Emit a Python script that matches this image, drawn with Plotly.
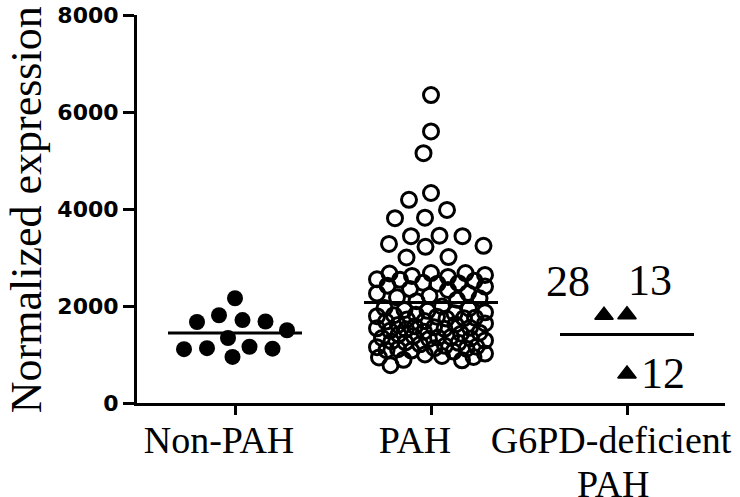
import numpy as np
import plotly.graph_objects as go

# ---------------- data ----------------
categories = ["Non-PAH", "PAH", "G6PD-deficient"]
category_second_line = ["", "", "PAH"]

non_pah_values = [2160, 1810, 1710, 1680, 1670, 1500, 1340, 1160, 1130, 1120, 1110, 950]

pah_values = [
    6350, 5600, 5150, 4330, 4190, 3980, 3820, 3810, 3450, 3440, 3440,
    3280, 3240, 3220, 3010, 3000, 2680, 2680, 2670, 2640, 2620, 2600, 2550,
    2540, 2520, 2480, 2470, 2460, 2420, 2400, 2350, 2330, 2270, 2260,
    2210, 2160, 2130, 2180, 2100,
    1990, 1950, 1920, 1900, 1870, 1960, 1850, 1820,
    1810, 1790, 1780, 1750, 1720, 1690, 1760, 1740, 1680, 1640, 1620,
    1610, 1580, 1550, 1530, 1520, 1490, 1560, 1540, 1470, 1450, 1430,
    1410, 1380, 1350, 1330, 1320, 1290, 1360, 1340, 1270, 1250, 1240,
    1210, 1180, 1150, 1120, 1090, 1160, 1130, 1110,
    1060, 1020, 1000, 970, 1080,
    950, 890, 780, 880, 940,
]

g6pd_values = [1810, 1820, 600]
g6pd_ids = ["28", "13", "12"]

y_tick_values = [0, 2000, 4000, 6000, 8000]
y_title = "Normalized expression"

# ---------------- layout constants ----------------
W, H = 740, 497
M = dict(l=137, r=15, t=15, b=94)
plot_w = W - M["l"] - M["r"]
plot_h = H - M["t"] - M["b"]
x_range = [-0.5, 2.5]
y_range = [0, 8000]
px_per_x = plot_w / (x_range[1] - x_range[0])
px_per_y = plot_h / (y_range[1] - y_range[0])


def swarm_offsets(values, diameter=23.0, max_half=54.0, step=0.5):
    """Beeswarm-style horizontal offsets (in x data units) for a column of points."""
    vals = np.asarray(values, dtype=float)
    ys = vals * px_per_y
    order = np.argsort(-vals, kind="stable")
    cand = np.arange(-max_half, max_half + step / 2, step)
    cand = np.array(sorted(cand, key=lambda c: (abs(c), c)))
    px_list, py_list = [], []
    xs = np.zeros(len(vals))
    for i in order:
        if px_list:
            pxa = np.array(px_list)
            pya = np.array(py_list)
            d = np.sqrt((cand[:, None] - pxa[None, :]) ** 2 + (ys[i] - pya[None, :]) ** 2).min(axis=1)
            ok = np.where(d >= diameter)[0]
            j = ok[0] if len(ok) else int(np.argmax(d))
        else:
            j = 0
        xs[i] = cand[j]
        px_list.append(cand[j])
        py_list.append(ys[i])
    return xs / px_per_x


groups = [non_pah_values, pah_values, g6pd_values]
styles = [
    dict(symbol="circle", size=16, color="black", line=dict(width=0)),
    dict(symbol="circle-open", size=15, color="black", line=dict(width=3, color="black")),
    dict(symbol="triangle-up", size=16, color="black", line=dict(width=1.5, color="black")),
]

fig = go.Figure()
offsets_all = []
for gi, (vals, st) in enumerate(zip(groups, styles)):
    off = swarm_offsets(vals)
    offsets_all.append(off)
    fig.add_trace(go.Scatter(
        x=gi + off, y=vals, mode="markers", marker=st,
        showlegend=False, hoverinfo="y", name=categories[gi]))

half_len = 67 / px_per_x
for gi, vals in enumerate(groups):
    m = float(np.mean(vals))
    fig.add_trace(go.Scatter(
        x=[gi - half_len, gi + half_len], y=[m, m], mode="lines",
        line=dict(color="black", width=3), showlegend=False, hoverinfo="skip"))

# sample-ID labels next to the G6PD-deficient points
id_place = [
    dict(xanchor="right", xshift=-12, yshift=34),
    dict(xanchor="left", xshift=-1, yshift=34),
    dict(xanchor="left", xshift=12, yshift=0),
]
serif = "Liberation Serif, Times New Roman, serif"
for k, (lab, v) in enumerate(zip(g6pd_ids, g6pd_values)):
    p = id_place[k]
    fig.add_annotation(
        x=2 + offsets_all[2][k], y=v, xref="x", yref="y", text=lab, showarrow=False,
        xanchor=p["xanchor"], yanchor="middle", xshift=p["xshift"], yshift=p["yshift"],
        font=dict(family=serif, size=44, color="black"))

# second line of the category labels
for gi, extra in enumerate(category_second_line):
    if extra:
        fig.add_annotation(
            x=gi, y=(403 - 461) / plot_h, xref="x", yref="paper",
            text=extra, showarrow=False, xanchor="center", yanchor="top", xshift=-14,
            font=dict(family=serif, size=38, color="black"))

# y-axis title
fig.add_annotation(
    x=(26 - M["l"]) / plot_w, y=0.497, xref="paper", yref="paper", text=y_title,
    textangle=-90, showarrow=False, xanchor="center", yanchor="middle",
    font=dict(family=serif, size=44, color="black"))

fig.update_layout(
    width=W, height=H, margin=M, paper_bgcolor="white", plot_bgcolor="white",
    showlegend=False,
    xaxis=dict(
        range=x_range, tickmode="array", tickvals=list(range(len(categories))),
        ticktext=categories, showline=True, linecolor="black", linewidth=3,
        ticks="outside", ticklen=9, tickwidth=3, tickcolor="black",
        showgrid=False, zeroline=False, ticklabelshift=-16, ticklabelstandoff=-8,
        automargin=False,
        tickfont=dict(family=serif, size=38, color="black")),
    yaxis=dict(
        range=y_range, tickmode="array", tickvals=y_tick_values,
        showline=True, linecolor="black", linewidth=3,
        ticks="outside", ticklen=11, tickwidth=3, tickcolor="black",
        showgrid=False, zeroline=False, automargin=False,
        tickfont=dict(family="DejaVu Sans, Arial, sans-serif", size=22,
                      color="black", weight="bold")),
)

fig.write_html("out.html", config={"displayModeBar": False},
               post_script="document.body.style.margin='0';")
